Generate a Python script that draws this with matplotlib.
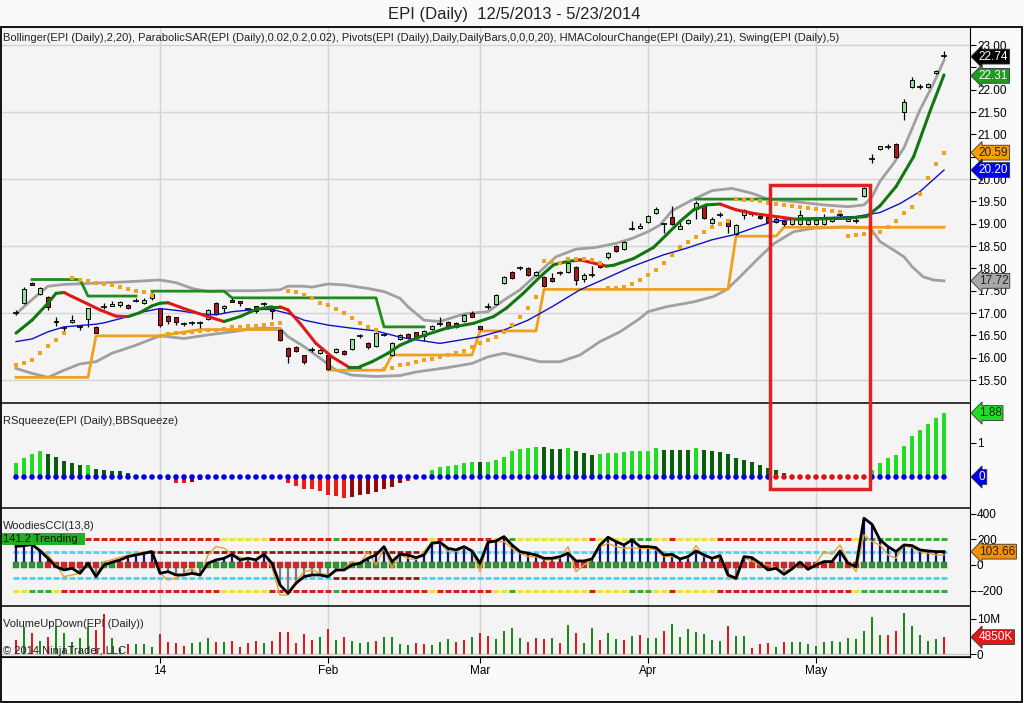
import numpy as np
import matplotlib
matplotlib.use("Agg")
import matplotlib.pyplot as plt
from matplotlib.patches import Rectangle
from matplotlib.lines import Line2D
from matplotlib import transforms

plt.rcParams['font.family'] = ['Liberation Sans', 'DejaVu Sans']

# ---------------- data ----------------
month_pos = [18, 39, 58, 79, 100]
month_lbl = ['14', 'Feb', 'Mar', 'Apr', 'May']

opens = [17.00, 17.23, 17.67, 17.42, 17.36, 16.79, 16.67, 16.80, 16.69, 16.87,
         16.69, 17.14, 17.16, 17.18, 17.18, 17.28, 17.22, 17.33, 17.11, 16.94,
         16.90, 16.75, 16.78, 16.77, 16.86, 17.22, 17.12, 17.30, 17.27, 17.08,
         17.15, 17.20, 17.13, 16.62, 16.22, 16.25, 16.05, 16.17, 16.10, 16.07,
         16.12, 16.16, 16.19, 16.48, 16.34, 16.27, 16.50, 16.06, 16.42, 16.53,
         16.57, 16.49, 16.65, 16.75, 16.81, 16.78, 16.82, 17.00, 16.71, 17.14,
         17.20, 17.67, 17.92, 18.00, 18.00, 17.86, 17.81, 17.78, 17.90, 17.92,
         18.03, 17.76, 17.85, 18.12, 18.25, 18.50, 18.43, 18.88, 18.90, 19.04,
         19.25, 19.00, 19.15, 18.89, 19.02, 19.33, 19.41, 19.01, 19.20, 19.08,
         18.77, 19.19, 19.22, 19.18, 19.15, 19.03, 19.06, 19.00, 19.00, 18.99,
         19.00, 19.00, 19.06, 19.20, 19.07, 19.07, 19.62, 20.45, 20.68, 20.72,
         20.78, 21.50, 22.06, 22.07, 22.05, 22.37, 22.75]
closes = [17.01, 17.54, 17.63, 17.56, 17.14, 16.83, 16.66, 16.84, 16.68, 17.11,
          16.56, 17.15, 17.20, 17.24, 17.11, 17.29, 17.29, 17.43, 16.73, 16.82,
          16.80, 16.76, 16.79, 16.78, 17.07, 16.97, 17.16, 17.25, 17.22, 17.07,
          17.05, 17.21, 17.04, 16.40, 16.03, 16.15, 15.91, 16.18, 16.18, 15.75,
          16.20, 16.08, 16.41, 16.49, 16.25, 16.55, 16.50, 16.33, 16.50, 16.43,
          16.43, 16.59, 16.72, 16.76, 16.66, 16.68, 16.95, 16.92, 16.64, 17.15,
          17.40, 17.81, 17.78, 18.01, 17.85, 17.92, 17.60, 17.72, 17.90, 18.12,
          17.74, 17.86, 17.86, 18.03, 18.34, 18.39, 18.59, 18.87, 18.95, 19.17,
          19.33, 19.01, 19.00, 18.95, 19.08, 19.46, 19.12, 19.10, 19.21, 18.95,
          18.97, 19.30, 19.23, 19.12, 19.04, 19.10, 19.00, 19.10, 19.20, 19.08,
          19.08, 19.15, 19.13, 19.21, 19.11, 19.07, 19.80, 20.46, 20.73, 20.73,
          20.49, 21.72, 22.22, 22.08, 22.13, 22.42, 22.74]
highs = [17.06, 17.58, 17.69, 17.58, 17.38, 16.92, 16.72, 16.95, 16.74, 17.12,
         16.72, 17.22, 17.26, 17.28, 17.20, 17.33, 17.34, 17.47, 17.12, 16.96,
         16.91, 16.80, 16.83, 16.82, 17.10, 17.24, 17.18, 17.34, 17.28, 17.09,
         17.16, 17.24, 17.15, 16.64, 16.24, 16.27, 16.07, 16.24, 16.20, 16.08,
         16.22, 16.17, 16.42, 16.54, 16.36, 16.58, 16.52, 16.35, 16.53, 16.55,
         16.58, 16.61, 16.74, 16.91, 16.82, 16.80, 16.97, 17.04, 16.72, 17.22,
         17.42, 17.83, 17.94, 18.06, 18.02, 17.94, 17.83, 17.90, 17.95, 18.20,
         18.05, 17.90, 18.05, 18.14, 18.36, 18.52, 18.61, 19.05, 19.02, 19.19,
         19.38, 19.02, 19.40, 19.05, 19.10, 19.50, 19.43, 19.15, 19.27, 19.10,
         18.99, 19.32, 19.25, 19.20, 19.16, 19.15, 19.08, 19.12, 19.30, 19.10,
         19.10, 19.22, 19.15, 19.30, 19.13, 19.13, 19.82, 20.55, 20.75, 20.78,
         20.80, 21.80, 22.28, 22.12, 22.15, 22.45, 22.87]
lows = [16.96, 17.20, 17.62, 17.40, 17.07, 16.70, 16.60, 16.78, 16.62, 16.68,
        16.55, 17.10, 17.15, 17.14, 17.10, 17.25, 17.20, 17.30, 16.69, 16.76,
        16.74, 16.70, 16.73, 16.67, 16.84, 16.95, 17.00, 17.24, 17.16, 17.06,
        17.00, 17.15, 16.86, 16.38, 15.88, 16.13, 15.86, 16.13, 16.08, 15.73,
        16.10, 16.05, 16.17, 16.44, 16.19, 16.25, 16.48, 16.04, 16.40, 16.41,
        16.42, 16.37, 16.63, 16.72, 16.64, 16.66, 16.80, 16.90, 16.62, 17.10,
        17.18, 17.65, 17.76, 17.96, 17.83, 17.84, 17.58, 17.70, 17.85, 17.90,
        17.62, 17.69, 17.80, 18.00, 18.20, 18.37, 18.41, 18.86, 18.88, 19.02,
        19.22, 18.80, 18.98, 18.87, 19.00, 19.10, 19.10, 18.99, 19.15, 18.80,
        18.75, 19.10, 19.18, 19.10, 19.02, 19.01, 18.95, 18.98, 18.98, 18.97,
        18.98, 18.98, 19.04, 19.10, 19.05, 19.02, 19.60, 20.35, 20.65, 20.68,
        20.47, 21.32, 22.04, 22.02, 22.03, 22.35, 22.70]

bbu_x = [0, 2, 4, 6, 10, 14, 18, 20, 22, 24, 27, 30, 33, 34, 36, 37, 39, 41, 44, 46,
         48, 49, 51, 53, 56, 59, 61, 63, 65.5, 67.5, 70, 72.5, 75, 77, 79, 80.5, 82,
         84.5, 87, 89.5, 92, 94, 97.5, 101, 104, 106, 107, 108, 109.7, 111, 113,
         114.7, 116]
bbu_y = [16.98, 17.30, 17.60, 17.64, 17.67, 17.70, 17.74, 17.68, 17.55, 17.48, 17.50,
         17.50, 17.52, 17.60, 17.60, 17.58, 17.65, 17.63, 17.55, 17.48, 17.33, 17.14,
         16.84, 16.81, 16.98, 17.03, 17.29, 17.52, 17.93, 18.26, 18.43, 18.47, 18.56,
         18.67, 18.82, 18.97, 19.29, 19.53, 19.74, 19.79, 19.68, 19.55, 19.49, 19.42,
         19.38, 19.42, 19.60, 19.95, 20.35, 20.70, 21.55, 22.14, 22.66]
bbl_x = [0, 2, 4, 6, 8, 10, 12, 15, 18, 21, 24, 27, 30, 33, 34, 36, 38, 40, 42, 45,
         48, 50, 54, 57, 59, 61, 63, 65.5, 68, 70.5, 73, 75.5, 78, 79, 81.3, 84.7,
         87.2, 88.8, 90.5, 92.6, 94.7, 97.2, 99.7, 103.8, 106.8, 108, 109.7, 111,
         112, 113.4, 114.7, 116]
bbl_y = [15.76, 15.65, 15.56, 15.72, 15.86, 15.91, 16.10, 16.28, 16.49, 16.43, 16.51,
         16.58, 16.66, 16.66, 16.47, 16.25, 15.99, 15.72, 15.61, 15.58, 15.60, 15.68,
         15.78, 15.87, 16.02, 16.10, 16.02, 15.91, 15.91, 16.06, 16.36, 16.58, 16.88,
         17.03, 17.14, 17.25, 17.37, 17.52, 17.81, 18.19, 18.55, 18.82, 18.90, 18.93,
         18.90, 18.60, 18.41, 18.26, 18.04, 17.81, 17.74, 17.72]
sma_x = [0, 2, 4, 6, 10, 11, 14, 16, 18, 20.5, 23, 25, 27, 30, 32, 34, 36, 39, 42, 45,
         48, 50, 53, 58, 61, 64, 67, 70.5, 73.8, 77, 80.9, 83.8, 87, 89.7, 92.6,
         94.7, 98, 101.8, 105, 108, 110.5, 113, 116]
sma_y = [16.36, 16.42, 16.58, 16.69, 16.75, 16.78, 16.92, 17.03, 17.10, 17.05, 16.98,
         16.96, 17.03, 17.08, 17.08, 16.99, 16.84, 16.73, 16.66, 16.60, 16.46, 16.40,
         16.32, 16.47, 16.62, 16.84, 17.14, 17.52, 17.78, 18.04, 18.30, 18.45, 18.64,
         18.75, 18.93, 19.05, 19.12, 19.14, 19.16, 19.25, 19.45, 19.72, 20.20]
hma_x = [0, 2, 4, 5, 6, 7, 9, 10.5, 12.5, 14, 15.5, 17, 18, 19, 21, 24, 26, 28, 30,
         32, 33, 34, 35.5, 37.5, 39.5, 41.5, 43, 44.5, 46.5, 48, 50.5, 53.8, 57.2,
         59.7, 61.3, 63.4, 65.5, 67.2, 68.8, 70.5, 73.8, 74.7, 77.2, 79.7, 81.3, 83,
         84.7, 86.3, 88, 90, 92.5, 95, 97.5, 103.8, 106.3, 108, 110, 112.2, 114.3, 116]
hma_y = [16.55, 16.84, 17.22, 17.44, 17.46, 17.37, 17.20, 17.07, 16.93, 16.92, 17.01,
         17.16, 17.22, 17.23, 17.10, 16.92, 16.81, 16.92, 17.08, 17.14, 17.14, 17.07,
         16.77, 16.32, 16.02, 15.80, 15.80, 15.91, 16.10, 16.28, 16.47, 16.66, 16.77,
         16.92, 17.11, 17.44, 17.81, 18.08, 18.15, 18.19, 18.05, 18.07, 18.22, 18.47,
         18.75, 19.05, 19.31, 19.42, 19.44, 19.31, 19.22, 19.16, 19.10, 19.12, 19.16,
         19.40, 19.83, 20.50, 21.54, 22.33]
sar = [15.84, 15.89, 15.95, 16.10, 16.27, 16.40, 16.55, 17.78, 17.74, 17.72,
       17.68, 17.66, 17.63, 17.59, 17.53, 17.49, 17.46, 17.40, 16.49, 16.53,
       16.55, 16.56, 16.58, 16.60, 16.62, 16.63, 16.65, 16.68, 16.69, 16.71,
       16.72, 16.74, 16.75, 16.77, 17.50, 17.46, 17.40, 17.33, 17.23, 17.17,
       17.09, 16.99, 16.88, 16.78, 16.69, 16.62, 15.74, 15.78, 15.84, 15.87,
       15.91, 15.95, 15.97, 16.02, 16.06, 16.11, 16.16, 16.25, 16.32, 16.40,
       16.47, 16.58, 16.73, 16.92, 17.12, 17.35, 18.16, 18.14, 18.12, 18.22,
       18.22, 18.20, 18.19, 18.12, 17.55, 17.55, 17.59, 17.66, 17.75, 17.85,
       17.96, 18.13, 18.30, 18.47, 18.60, 18.71, 18.82, 18.92, 19.00, 19.05,
       19.55, 19.54, 19.52, 19.50, 19.47, 19.45, 19.42, 19.40, 19.38, 19.35,
       19.33, 19.31, 19.29, 19.27, 18.72, 18.74, 18.77, 18.80, 18.82, 18.93,
       19.07, 19.23, 19.38, 19.66, 20.03, 20.34, 20.59]
swh_x = [2, 8, 9, 15, np.nan, 17, 26, 27, 45, 46, 51, np.nan, 85, 105]
swh_y = [17.75, 17.75, 17.38, 17.38, np.nan, 17.49, 17.49, 17.34, 17.34, 16.69, 16.69,
         np.nan, 19.55, 19.55]
swl_x = [0, 9, 10, 18, 23, 33, np.nan, 39, 46, 47, 57, 58, 65, 66, 89, 90, 95, 96, 116]
swl_y = [15.56, 15.56, 16.49, 16.49, 16.63, 16.63, np.nan, 15.72, 15.72, 16.06, 16.06,
         16.60, 16.60, 17.53, 17.53, 18.72, 18.72, 18.92, 18.92]

sq_vals = [0.42, 0.55, 0.68, 0.75, 0.68, 0.58, 0.47, 0.42, 0.35, 0.35,
           0.24, 0.21, 0.18, 0.18, 0.11, 0, 0, 0, 0, -0.09,
           -0.17, -0.17, -0.14, -0.09, 0, 0, 0, 0, 0, 0,
           0, 0, 0, 0, -0.17, -0.26, -0.36, -0.36, -0.40, -0.53,
           -0.56, -0.61, -0.58, -0.53, -0.50, -0.43, -0.36, -0.30, -0.19, -0.11,
           0, 0.06, 0.21, 0.30, 0.32, 0.35, 0.40, 0.44, 0.44, 0.45,
           0.50, 0.60, 0.75, 0.81, 0.84, 0.89, 0.87, 0.81, 0.81, 0.84,
           0.75, 0.70, 0.65, 0.68, 0.70, 0.70, 0.73, 0.75, 0.75, 0.77,
           0.84, 0.79, 0.79, 0.79, 0.79, 0.84, 0.79, 0.75, 0.73, 0.68,
           0.55, 0.50, 0.45, 0.35, 0.25, 0.21, 0.11, 0, 0, 0,
           0, 0, 0, 0, 0, 0, 0, 0.20, 0.42, 0.55,
           0.65, 0.91, 1.20, 1.38, 1.56, 1.73, 1.88]
sq_cols = ("LLLLDDDDDLDDDDDDDDDRRRKKxxxxxxxxxxRRRRRRRRKKKKKKKRx"
           "LLLLLLLDLLLLLLLDDDLDDDLLLLLLLLDDDDLDDDDDDDDDDDxxxxxxxxxx"
           "LLLLLLLLLL")
squeeze_on = list(range(95, 107))

cci = [145, 150, 160, 110, 52, -13, -39, -26, -65, 13,
       -91, 0, 21, 39, 65, 78, 91, 104, -65, -52,
       -78, -78, -65, -78, 13, 39, 52, 83, 39, 52,
       39, 83, 13, -156, -221, -143, -91, -78, -78, -91,
       -39, -39, 0, 13, 52, 78, 143, 26, 83, 78,
       57, 78, 169, 177, 130, 117, 143, 109, 13, 177,
       187, 221, 156, 104, 91, 78, 52, 52, 65, 91,
       31, 31, 47, 156, 216, 182, 156, 195, 143, 143,
       135, 78, 83, 47, 65, 109, 78, 52, 73, -78,
       -104, 65, 57, 13, -39, -26, -73, -31, 21, -34,
       0, 26, 26, 109, 13, -13, 364, 317, 195, 143,
       104, 156, 151, 117, 109, 104, 104]
turbo = [150, 155, 160, 120, 78, 0, -91, -78, -65, 0,
         -78, 26, 40, 60, 75, 90, 100, 110, -65, -117,
         -104, -65, -26, -91, 78, 143, 130, 83, 60, 40,
         52, 90, -20, -234, -234, -130, -52, -39, -65, -78,
         -52, -26, 26, 13, 104, 0, 130, -26, 78, 52,
         39, 104, 182, 169, 104, 104, 135, 104, -52, 182,
         182, 182, 130, 91, 65, 65, 39, 39, 52, 143,
         -52, 0, 39, 143, 169, 143, 130, 135, 130, 130,
         117, 65, 65, 52, 52, 151, 65, 52, 52, -91,
         -117, 52, 31, 0, 0, -21, -52, -26, 13, -39,
         13, 104, 83, 156, 26, -52, 234, 182, 156, 78,
         52, 151, 135, 104, 91, 78, 78]
band_runs = [('y', 2), ('g', 3), ('y', 1), ('r', 20), ('y', 6), ('r', 8), ('g', 1),
             ('r', 11), ('y', 1), ('r', 7), ('y', 2), ('g', 1), ('y', 9), ('r', 1),
             ('y', 4), ('g', 3), ('y', 2), ('r', 1), ('y', 5), ('r', 17), ('y', 1),
             ('g', 11)]
zero_runs = [('g', 4), ('r', 7), ('g', 2), ('r', 10), ('g', 5), ('r', 11), ('g', 26),
             ('r', 4), ('g', 1), ('r', 2), ('g', 9), ('r', 4), ('g', 1), ('r', 17),
             ('g', 1), ('r', 2), ('g', 11)]

vol = [4.1, 7.6, 5.9, 3.9, 5.0, 7.8, 6.1, 3.6, 4.5, 7.6,
       6.9, 11.4, 4.5, 1.7, 2.8, 2.9, 2.9, 2.2, 5.7, 3.6,
       3.3, 2.4, 3.3, 3.6, 4.7, 3.6, 3.6, 3.9, 2.2, 3.3,
       3.9, 3.3, 3.9, 6.4, 6.2, 3.3, 5.7, 4.1, 5.0, 7.2,
       4.1, 4.8, 3.8, 3.3, 3.6, 3.8, 4.8, 5.0, 2.9, 2.5,
       3.3, 2.8, 2.6, 3.6, 4.2, 3.6, 4.1, 4.8, 6.1, 5.2,
       4.3, 6.6, 7.4, 4.7, 3.6, 4.7, 4.3, 4.7, 3.3, 8.3,
       5.9, 3.1, 7.5, 4.1, 6.1, 4.3, 4.1, 5.3, 5.5, 4.7,
       4.7, 6.6, 8.5, 5.0, 7.2, 6.4, 5.7, 4.1, 3.8, 8.0,
       5.2, 5.2, 1.9, 2.8, 3.3, 2.2, 3.6, 3.4, 3.4, 2.9,
       2.4, 3.6, 3.8, 3.6, 4.5, 4.3, 6.6, 10.7, 5.5, 5.5,
       6.6, 11.8, 8.0, 5.5, 3.8, 4.3, 4.85]
vol_up = ("rgrgrggggg" "rrggrgggrr" "rrgggrgrrr" "rgrrrrrrgr"
          "grgggrgggg" "rrgggrrgrr" "ggggrrrgrg" "rggrggrgrg"
          "grgggggggr" "ggrrrgrggg" "gggggggggr" "rgggggr")

# ---------------- layout helpers (pixels of the 1024x703 image) ----------------
W, H = 1024.0, 703.0
AX_L, AX_R = 1, 970
XMIN = (AX_L - 16) / 8.0
XMAX = (AX_R - 16) / 8.0
BG = '#f4f4f4'
FS = 8.0


def fy(py):
    return 1 - py / H


def expand(runs, cmap):
    out = []
    for c, n in runs:
        out += [cmap[c]] * n
    return out


fig = plt.figure(figsize=(10.24, 7.03), dpi=100)
fig.patch.set_facecolor('#fafafa')


def panel(top, bottom):
    ax = fig.add_axes([AX_L / W, fy(bottom), (AX_R - AX_L) / W, (bottom - top) / H])
    ax.set_facecolor(BG)
    ax.set_xlim(XMIN, XMAX)
    for s in ['left', 'top', 'bottom']:
        ax.spines[s].set_visible(False)
    ax.spines['right'].set_color('black')
    ax.yaxis.tick_right()
    ax.tick_params(axis='y', direction='out', length=4, labelsize=8.5, pad=1)
    ax.set_xticks([])
    for xv in month_pos:
        ax.axvline(xv, color='#d4d4d4', lw=1, zorder=0)
    return ax


def tag(ax, y, s, fc, tc):
    tr = transforms.blended_transform_factory(ax.transAxes, ax.transData)
    ax.text(1.009, y, s, transform=tr, ha='left', va='center', fontsize=8.5, color=tc,
            bbox=dict(boxstyle='larrow,pad=0.12', fc=fc, ec='#333333', lw=0.6),
            clip_on=False, zorder=10)


idx = np.arange(len(closes))

# ---------------- price panel ----------------
ax1 = panel(27, 403)
ax1.set_ylim(14.986, 23.403)
yt = np.arange(15.5, 23.01, 0.5)
ax1.set_yticks(yt)
# labels hidden under the value tags are left blank
ax1.set_yticklabels(['' if v in (22.5, 20.5) else '%.2f' % v for v in yt])
for gv in [15.5, 17.0, 18.5, 20.0, 21.5, 23.0]:
    ax1.axhline(gv, color='#d4d4d4', lw=1, zorder=0)

ax1.plot(bbu_x, bbu_y, color='#a0a0a0', lw=2, zorder=2)
ax1.plot(bbl_x, bbl_y, color='#a0a0a0', lw=2, zorder=2)
ax1.plot(swh_x, swh_y, color='#1e8c1e', lw=2, zorder=2)
ax1.plot(swl_x, swl_y, color='#f0a020', lw=2, zorder=2)

for i in idx:
    o, c, h, l = opens[i], closes[i], highs[i], lows[i]
    ax1.vlines(i, l, h, color='black', lw=0.9, zorder=4)
    if abs(c - o) < 0.02:
        ax1.hlines(o, i - 0.35, i + 0.35, color='black', lw=1.2, zorder=5)
    else:
        col = '#98e098' if c > o else '#b01818'
        ax1.bar(i, abs(c - o), bottom=min(o, c), width=0.62, color=col,
                edgecolor='black', lw=0.7, zorder=5)

ax1.plot(sma_x, sma_y, color='#1010c8', lw=1, zorder=6)
for k in range(len(hma_x) - 1):
    col = '#117711' if hma_y[k + 1] >= hma_y[k] else '#e01818'
    ax1.plot(hma_x[k:k + 2], hma_y[k:k + 2], color=col, lw=2.2, zorder=6,
             solid_capstyle='round')
ax1.scatter(idx, sar, marker='s', s=12, color='#eea21e', zorder=7, linewidths=0)

tag(ax1, 22.74, '22.74', '#000000', 'white')
tag(ax1, 22.31, '22.31', '#1e9a1e', 'white')
tag(ax1, 20.59, '20.59', '#f5a000', '#222222')
tag(ax1, 20.20, '20.20', '#0000ee', 'white')
tag(ax1, 17.72, '17.72', '#a8a8a8', '#222222')

# ---------------- squeeze panel ----------------
ax2 = panel(403, 508)
ax2.set_ylim(-0.912, 2.176)
ax2.set_yticks([1])
ax2.set_yticklabels(['1'])
sq_map = {'L': '#22dd22', 'D': '#0b5e0b', 'R': '#ee1a1a', 'K': '#8a0c0c', 'x': BG}
ax2.bar(idx, sq_vals, width=0.55, color=[sq_map[c] for c in sq_cols], zorder=2)
dot_cols = ['#e01010' if i in squeeze_on else '#0000e0' for i in idx]
ax2.scatter(idx, np.zeros(len(idx)), s=16, color=dot_cols, zorder=3, linewidths=0)
tag(ax2, 1.88, '1.88', '#22dd22', '#222222')
tag(ax2, 0, '0', '#0000ee', 'white')

# ---------------- Woodies CCI panel ----------------
ax3 = panel(508, 606)
ax3.set_ylim(-320, 444)
ax3.set_yticks([-200, 0, 200, 400])
band_cols = expand(band_runs, {'r': '#dd1a1a', 'y': '#f0e030', 'g': '#3aa83a'})
for i in idx:
    ax3.hlines([200, -200], i - 0.38, i + 0.38, color=band_cols[i], lw=2.2, zorder=1)
    c100 = '#a01010' if 17 <= i <= 50 else '#40d8ee'
    cm100 = '#a01010' if 40 <= i <= 50 else '#40d8ee'
    ax3.hlines(100, i - 0.38, i + 0.38, color=c100, lw=2.0, zorder=1)
    ax3.hlines(-100, i - 0.38, i + 0.38, color=cm100, lw=2.0, zorder=1)
stem_cols = ['#101080' if v > 0 else '#7a7a7a' for v in cci]
ax3.vlines(idx, 0, cci, colors=stem_cols, lw=1.6, zorder=2)
zero_cols = expand(zero_runs, {'g': '#2a9a2a', 'r': '#dd2020'})
ax3.scatter(idx, np.zeros(len(idx)), marker='s', s=22, color=zero_cols,
            edgecolors='#555555', linewidths=0.3, zorder=3)
ax3.plot(idx, turbo, color='#e8a030', lw=1, zorder=4)
ax3.plot(idx, cci, color='black', lw=2, zorder=5)
tag(ax3, 103.66, '103.66', '#f59000', '#222222')

# ---------------- volume panel ----------------
ax4 = panel(606, 657)
ax4.set_ylim(-0.76, 13.68)
ax4.set_yticks([0, 10])
ax4.set_yticklabels(['0', '10M'])
ax4.axhline(0, color='#c8c8c8', lw=1, zorder=0)
ax4.bar(idx, vol, width=0.3, color=['#1a8a1a' if c == 'g' else '#e01a1a' for c in vol_up],
        zorder=2)
ax4.spines['bottom'].set_visible(True)
ax4.set_xticks(month_pos)
ax4.set_xticklabels(month_lbl)
ax4.tick_params(axis='x', direction='out', length=4, labelsize=8.5, pad=2)
tag(ax4, 4.85, '4850K', '#e01a1a', 'white')

# ---------------- texts ----------------
fig.text(514 / W, fy(14), 'EPI (Daily)  12/5/2013 - 5/23/2014', ha='center', va='center',
         fontsize=12, color='#222222')
fig.text(3 / W, fy(38), 'Bollinger(EPI (Daily),2,20), ParabolicSAR(EPI (Daily),0.02,0.2,0.02), '
         'Pivots(EPI (Daily),Daily,DailyBars,0,0,0,20), HMAColourChange(EPI (Daily),21), '
         'Swing(EPI (Daily),5)', ha='left', va='center', fontsize=FS, color='#222222')
fig.text(3 / W, fy(421), 'RSqueeze(EPI (Daily),BBSqueeze)', ha='left', va='center',
         fontsize=FS, color='#222222')
fig.text(3 / W, fy(526), 'WoodiesCCI(13,8)', ha='left', va='center', fontsize=FS,
         color='#222222')
fig.text(3 / W, fy(539), '141.2 Trending  ', ha='left', va='center', fontsize=FS,
         color='#111111', bbox=dict(boxstyle='square,pad=0.12', fc='#22b022', ec='none'),
         zorder=20)
fig.text(3 / W, fy(624), 'VolumeUpDown(EPI (Daily))', ha='left', va='center', fontsize=FS,
         color='#222222')
fig.text(3 / W, fy(651), '\u00a9 2014 NinjaTrader, LLC', ha='left', va='center', fontsize=FS,
         color='#222222')

# ---------------- frame, separators and the red box ----------------
fig.add_artist(Rectangle((0.5 / W, fy(702)), 1021 / W, (702 - 27) / H, fill=False,
                         ec='black', lw=1.3))
for py in [403, 508, 606, 657]:
    fig.add_artist(Line2D([0, AX_R / W], [fy(py), fy(py)], color='black', lw=1.1))
fig.add_artist(Rectangle((770 / W, fy(489)), 100 / W, (489 - 185) / H, fill=False,
                         ec='#dd2222', lw=2.5, zorder=30))

fig.savefig('out.png', dpi=100, facecolor=fig.get_facecolor())
